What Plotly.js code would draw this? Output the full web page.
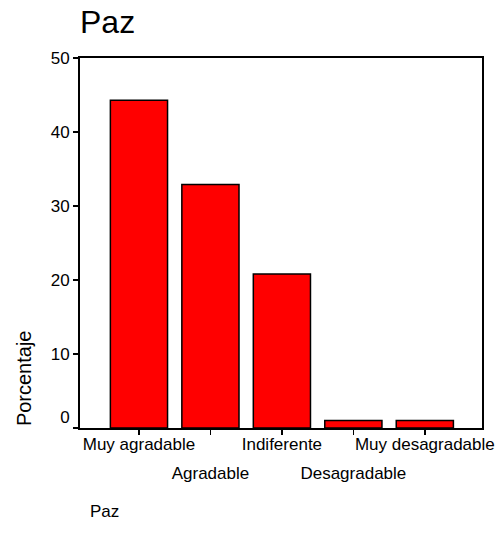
<!DOCTYPE html>
<html>
<head>
<meta charset="utf-8">
<script src="https://cdn.plot.ly/plotly-3.0.1.min.js"></script>
<style>html,body{margin:0;padding:0;background:#fff;}#chart{width:501px;height:540px;}</style>
</head>
<body>
<div id="chart"></div>
<script>
var categories = ["Muy agradable", "Agradable", "Indiferente", "Desagradable", "Muy desagradable"];
var percentages = [44.3, 32.9, 20.8, 1.0, 1.0];
var yTickValues = [0, 10, 20, 30, 40, 50];
var chartTitle = "Paz";
var yTitle = "Porcentaje";
var footTitle = "Paz";

var idx = categories.map(function (c, i) { return i; });
var font = "Liberation Sans, Arial, sans-serif";
var xr = [-0.825, 4.8];
var tickSize = 17;

var lowerIdx = idx.filter(function (i) { return i % 2 === 1; });

var data = [{
  type: "bar",
  x: idx,
  y: percentages,
  width: 0.8,
  marker: { color: "#ff0000", line: { color: "#000000", width: 1.5 } },
  hoverinfo: "skip"
}, {
  type: "scatter",
  mode: "markers",
  x: lowerIdx,
  y: lowerIdx.map(function (i) { return percentages[i]; }),
  xaxis: "x2",
  yaxis: "y",
  marker: { opacity: 0, size: 1 },
  hoverinfo: "skip"
}];

var layout = {
  width: 501, height: 540,
  margin: { l: 80, r: 19, t: 58, b: 112 },
  paper_bgcolor: "#ffffff", plot_bgcolor: "#ffffff",
  showlegend: false,
  font: { family: font, color: "#000000", size: tickSize },
  title: { text: chartTitle, font: { family: font, size: 32, color: "#000" },
           xref: "paper", x: 0, xanchor: "left", yref: "container", y: 0.959, yanchor: "middle" },
  xaxis: {
    range: xr, fixedrange: true,
    tickmode: "array", tickvals: idx,
    ticktext: idx.map(function (i) { return i % 2 === 0 ? categories[i] : ""; }),
    ticks: "outside", ticklen: 5, tickwidth: 1.5, tickcolor: "#000",
    showline: true, linecolor: "#000", linewidth: 2, mirror: true,
    showgrid: false, zeroline: false,
    ticklabelstandoff: -5,
    tickfont: { family: font, size: tickSize, color: "#000" }
  },
  xaxis2: {
    overlaying: "x", anchor: "y", side: "bottom",
    range: xr, fixedrange: true,
    tickmode: "array", tickvals: lowerIdx,
    ticktext: lowerIdx.map(function (i) { return categories[i]; }),
    ticks: "", showline: false, showgrid: false, zeroline: false,
    ticklabelstandoff: 33,
    tickfont: { family: font, size: tickSize, color: "#000" }
  },
  yaxis: {
    range: [0, 50], fixedrange: true,
    tickmode: "array", tickvals: yTickValues,
    ticktext: yTickValues.map(function (v) { return v === 0 ? "0<br> " : String(v); }),
    ticks: "outside", ticklen: 5, tickwidth: 1.5, tickcolor: "#000",
    showline: true, linecolor: "#000", linewidth: 2, mirror: true,
    showgrid: false, zeroline: false,
    tickfont: { family: font, size: tickSize, color: "#000" }
  },
  annotations: [
    { text: yTitle, textangle: -90, xref: "paper", yref: "paper",
      x: -0.139, y: 0, xanchor: "center", yanchor: "bottom", showarrow: false,
      font: { family: font, size: 20, color: "#000" } },
    { text: footTitle, xref: "paper", yref: "paper",
      x: 0.02, y: -0.227, xanchor: "left", yanchor: "middle", showarrow: false,
      font: { family: font, size: 17, color: "#000" } }
  ]
};

Plotly.newPlot("chart", data, layout, { staticPlot: true, displayModeBar: false });
</script>
</body>
</html>
